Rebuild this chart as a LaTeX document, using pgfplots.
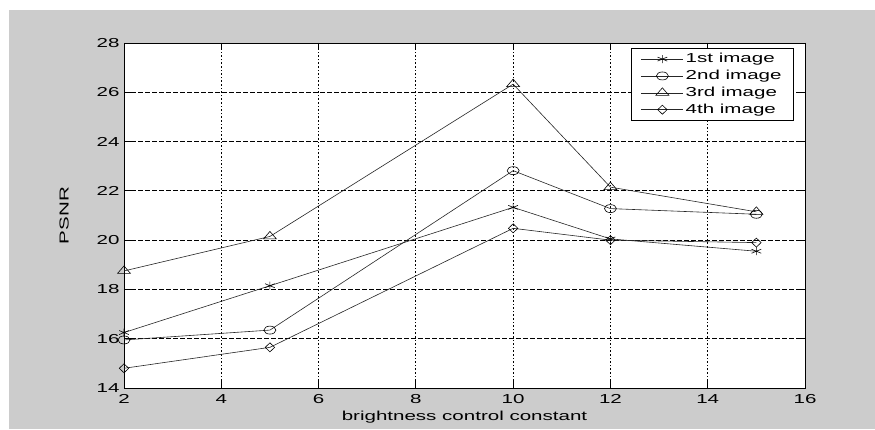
\documentclass[border=0pt]{standalone}
\usepackage{fontspec}
\setmainfont{Liberation Sans}[FakeStretch=1.58]
\usepackage{pgfplots}
\pgfplotsset{compat=1.18}
\begin{document}
\fontsize{13}{15}\selectfont
\begin{tikzpicture}[x=1pt,y=1pt]
\fill[white] (0,0) rectangle (875,429);
\fill[black!20] (9,0) rectangle (875,419);
\path[use as bounding box] (0,0) rectangle (875,429);
\begin{axis}[
  at={(124pt,41pt)}, anchor=south west,
  scale only axis, width=681pt, height=345pt,
  xmin=2, xmax=16, ymin=14, ymax=28,
  xtick={2,4,...,16}, ytick={14,16,...,28},
  axis background/.style={fill=white},
  axis line style={black, line width=0.9pt},
  tick align=inside, tick pos=both,
  major tick length=7pt,
  tick style={black, line width=0.8pt},
  grid=major,
  x grid style={black, line width=0.9pt, dash pattern=on 1.6pt off 2pt},
  y grid style={black, line width=0.9pt, dash pattern=on 4.5pt off 2.5pt},
  /pgf/number format/assume math mode=true,
  xticklabel style={yshift=-2pt},
  xlabel={brightness control constant},
  ylabel={PSNR},
  xlabel style={yshift=2pt},
  ylabel style={yshift=19pt},
  legend style={at={(1,1)}, anchor=north east, xshift=-11pt, yshift=-5pt,
    draw=black, line width=0.8pt, fill=white, inner xsep=10pt, inner ysep=3pt,
    row sep=1.5pt, font=\fontsize{13}{15}\selectfont,
    /tikz/every even column/.style={column sep=6pt}},
  legend cell align=left,
  legend image code/.code={\draw[mark repeat=2,mark phase=2] plot coordinates {(0pt,0pt) (21pt,0pt) (42pt,0pt)};},
]
\addplot[black!85, line width=0.6pt, mark=asterisk, mark size=4pt, mark options={solid, xscale=1.4, black}] coordinates {(2,16.25) (5,18.15) (10,21.33) (12,20.05) (15,19.55)};
\addlegendentry{1st image\hspace{10pt}}
\addplot[black!85, line width=0.6pt, mark=o, mark size=4pt, mark options={solid, xscale=1.5, black}] coordinates {(2,15.95) (5,16.35) (10,22.82) (12,21.28) (15,21.05)};
\addlegendentry{2nd image\hspace{10pt}}
\addplot[black!85, line width=0.6pt, mark=triangle, mark size=5pt, mark options={solid, xscale=1.5, black}] coordinates {(2,18.75) (5,20.15) (10,26.33) (12,22.15) (15,21.15)};
\addlegendentry{3rd image\hspace{10pt}}
\addplot[black!85, line width=0.6pt, mark=diamond, mark size=4.5pt, mark options={solid, xscale=1.4, black}] coordinates {(2,14.8) (5,15.65) (10,20.48) (12,20.0) (15,19.9)};
\addlegendentry{4th image\hspace{10pt}}
\end{axis}
\end{tikzpicture}
\end{document}
